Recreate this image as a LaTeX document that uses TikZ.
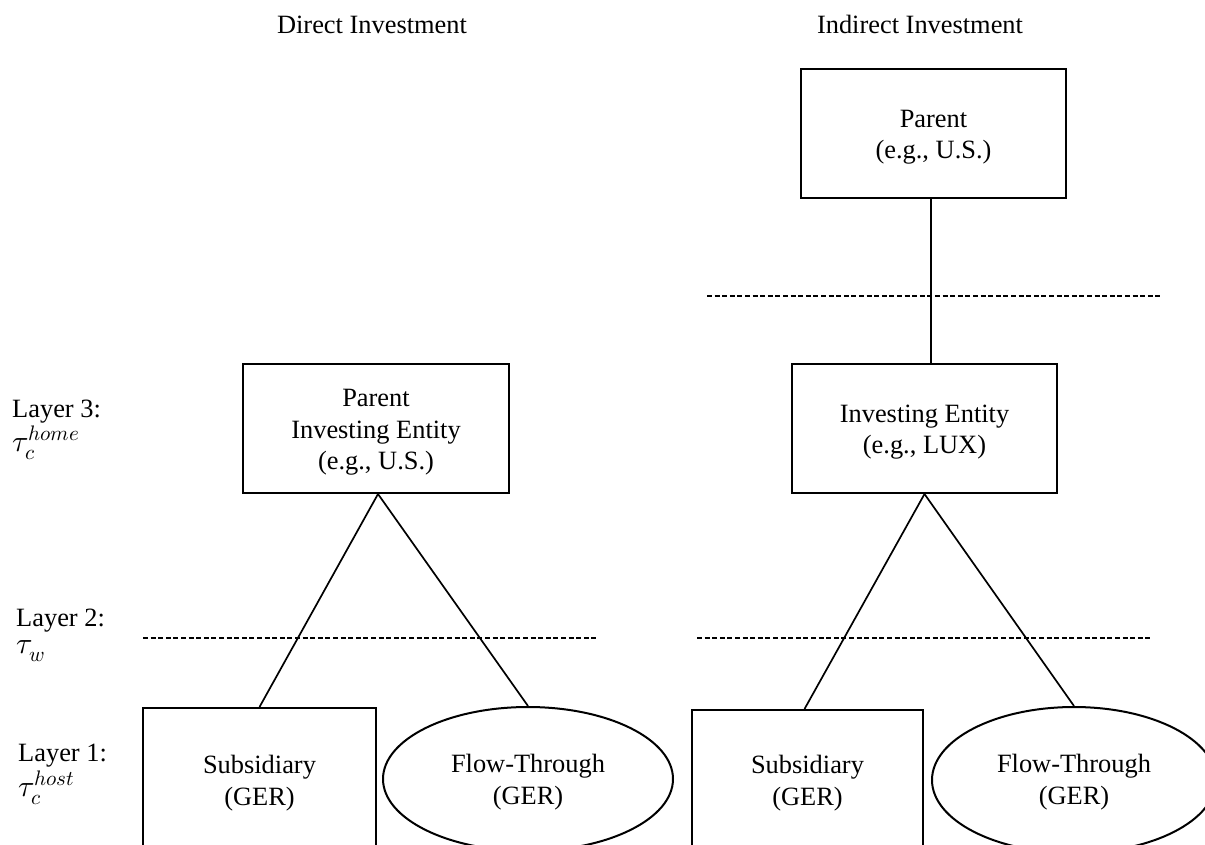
\documentclass[tikz,border=0pt]{standalone}
\usepackage{fontspec}
\usepackage{unicode-math}
\setmainfont{Liberation Serif}
\setmathfont{Latin Modern Math}
\usetikzlibrary{shapes.geometric}
\newcommand{\mbig}[1]{{\fontsize{30}{31.5}\selectfont$#1$}}
\tikzset{
  txt/.style={font=\fontsize{26.4}{31.5}\selectfont, inner sep=0pt},
  ent/.style={draw, line width=2pt, rectangle, inner sep=0pt},
  flow/.style={draw, line width=2pt, ellipse, inner sep=0pt},
  inner/.style={txt, align=center},
  link/.style={line width=1.7pt},
  vlink/.style={line width=1.3pt},
  layer/.style={line width=1.5pt, dash pattern=on 5pt off 2.6pt},
  lab/.style={txt, anchor=north west, align=left}
}
\begin{document}
\begin{tikzpicture}[x=1pt,y=-1pt]
\useasboundingbox (0,0) rectangle (1205,844);
\clip (0,0) rectangle (1205,844);
% titles
\node[txt, anchor=base] (tdir) at (372,33) {Direct Investment};
\node[txt, anchor=base] (tind) at (920,33) {Indirect Investment};
% layer labels
\node[lab] (l3) at (12,400) {Layer 3:\\[2.5pt]\mbig{\tau_c^{home}}};
\node[lab] (l2) at (16,609) {Layer 2:\\[-4.5pt]\mbig{\tau_w}};
\node[lab] (l1) at (18,744) {Layer 1:\\[3.5pt]\mbig{\tau_c^{host}}};
% entities
\node[ent, minimum width=265pt, minimum height=129pt] (par) at (933.5,133.5) {};
\node[inner] (par-t) at ([yshift=-3.5pt]par.center) {Parent\\(e.g., U.S.)};
\node[ent, minimum width=265pt, minimum height=129pt] (inv) at (924.5,428.5) {};
\node[inner] (inv-t) at ([yshift=-3.5pt]inv.center) {Investing Entity\\(e.g., LUX)};
\node[ent, minimum width=266pt, minimum height=129pt] (pie) at (376,428.5) {};
\node[inner] (pie-t) at ([yshift=-4pt]pie.center) {Parent\\Investing Entity\\(e.g., U.S.)};
\node[ent, minimum width=233pt, minimum height=146pt] (sub1) at (259.5,781) {};
\node[inner] (sub1-t) at ([yshift=-2pt]sub1.center) {Subsidiary\\(GER)};
\node[flow, minimum width=290pt, minimum height=144pt] (ft1) at (528,779) {};
\node[inner] (ft1-t) at ([yshift=-3pt]ft1.center) {Flow-Through\\(GER)};
\node[ent, minimum width=231pt, minimum height=146pt] (sub2) at (807.5,783) {};
\node[inner] (sub2-t) at ([yshift=0pt]sub2.center) {Subsidiary\\(GER)};
\node[flow, minimum width=284pt, minimum height=146pt] (ft2) at (1074,780) {};
\node[inner] (ft2-t) at ([yshift=-2pt]ft2.center) {Flow-Through\\(GER)};
% dashed layer lines
\coordinate (d1a) at (143,638); \coordinate (d1b) at (598,638);
\coordinate (d2a) at (697,638); \coordinate (d2b) at (1150,638);
\coordinate (d3a) at (707,296); \coordinate (d3b) at (1160,296);
\draw[layer] (d1a) -- (d1b);
\draw[layer] (d2a) -- (d2b);
\draw[layer] (d3a) -- (d3b);
% connectors
\draw[link] ([xshift=2pt]pie.south) -- (sub1.north);
\draw[link] ([xshift=2pt]pie.south) -- (ft1.north);
\draw[link] (inv.south) -- ([xshift=-3pt]sub2.north);
\draw[link] (inv.south) -- (ft2.north);
\draw[vlink] ([xshift=-2.5pt]par.south) -- ([xshift=-2.5pt]par.south |- inv.north);
\end{tikzpicture}
\end{document}
